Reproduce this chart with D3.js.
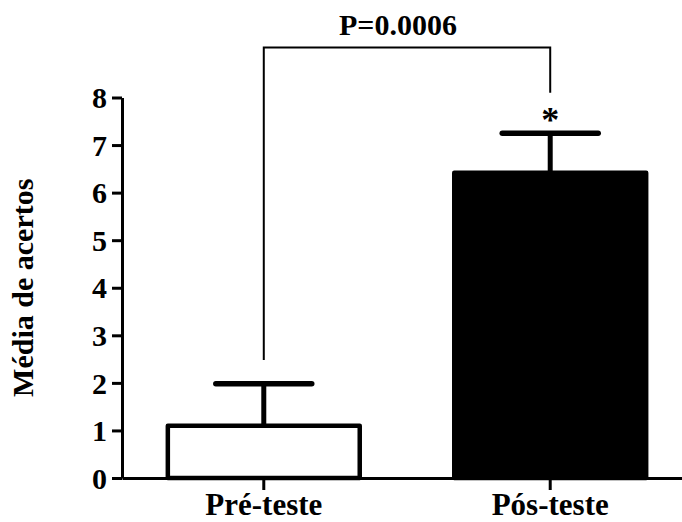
<!DOCTYPE html>
<html>
<head>
<meta charset="utf-8">
<script src="https://cdn.jsdelivr.net/npm/d3@7"></script>
<style>
  body { margin: 0; background: #fff; }
  svg text { font-family: "Liberation Serif", "DejaVu Serif", serif !important; font-weight: bold; }
</style>
</head>
<body>
<div id="chart"></div>
<script>
// data
var categories = ["Pré-teste", "Pós-teste"];
var means = [1.1, 6.42];
var errTop = [1.98, 7.25];
var fills = ["#fff", "#000"];
var yTicks = [0, 1, 2, 3, 4, 5, 6, 7, 8];
var pLabel = "P=0.0006";
var bracketTop = 9.05;
var bracketEnds = [2.48, 8.1];
var starLabel = "*";

var w = 682, h = 522;
var serif = "'Liberation Serif', 'DejaVu Serif', serif";

var svg = d3.select("#chart").append("svg")
    .attr("width", w)
    .attr("height", h);

var xScale = d3.scaleBand()
    .domain(categories)
    .range([122, 692])
    .paddingInner(0.33)
    .paddingOuter(0.16);

var yScale = d3.scaleLinear()
    .domain([0, 8])
    .range([478, 97.5]);

var cx = function(c) { return xScale(c) + xScale.bandwidth() / 2; };

// bars
svg.selectAll("rect.bar")
    .data(categories)
    .enter()
    .append("rect")
    .attr("class", "bar")
    .attr("x", function(d) { return xScale(d); })
    .attr("y", function(d, i) { return yScale(means[i]); })
    .attr("width", xScale.bandwidth())
    .attr("height", function(d, i) { return yScale(0) - yScale(means[i]); })
    .attr("fill", function(d, i) { return fills[i]; })
    .attr("stroke", "#000")
    .attr("stroke-width", 4.5)
    .attr("stroke-linejoin", "round");

// error bars (upper only)
var capW = xScale.bandwidth() / 2;
svg.selectAll("line.err")
    .data(categories)
    .enter()
    .append("line")
    .attr("class", "err")
    .attr("x1", cx).attr("x2", cx)
    .attr("y1", function(d, i) { return yScale(means[i]); })
    .attr("y2", function(d, i) { return yScale(errTop[i]); })
    .attr("stroke", "#000")
    .attr("stroke-width", 5);

svg.selectAll("line.cap")
    .data(categories)
    .enter()
    .append("line")
    .attr("class", "cap")
    .attr("x1", function(d) { return cx(d) - capW / 2; })
    .attr("x2", function(d) { return cx(d) + capW / 2; })
    .attr("y1", function(d, i) { return yScale(errTop[i]); })
    .attr("y2", function(d, i) { return yScale(errTop[i]); })
    .attr("stroke", "#000")
    .attr("stroke-width", 5.5)
    .attr("stroke-linecap", "round");

// axes
var yAxis = d3.axisLeft(yScale)
    .tickValues(yTicks)
    .tickSize(10)
    .tickSizeOuter(0)
    .tickPadding(5)
    .tickFormat(d3.format("d"));

var gy = svg.append("g")
    .attr("transform", "translate(122,0)")
    .call(yAxis)
    .attr("font-family", serif);
gy.select(".domain").attr("stroke", "#000").attr("stroke-width", 3);
gy.selectAll(".tick line").attr("stroke", "#000").attr("stroke-width", 3);
gy.selectAll(".tick text")
    .attr("font-size", 30)
    .attr("fill", "#000")
    .attr("dy", "0.34em");

var xAxis = d3.axisBottom(xScale)
    .tickSize(12)
    .tickSizeOuter(0)
    .tickPadding(4);

var gx = svg.append("g")
    .attr("transform", "translate(0," + yScale(0) + ")")
    .call(xAxis)
    .attr("font-family", serif);
gx.select(".domain").attr("stroke", "#000").attr("stroke-width", 3);
gx.selectAll(".tick line").attr("stroke", "#000").attr("stroke-width", 3);
gx.selectAll(".tick text")
    .attr("font-size", 31)
    .attr("fill", "#000")
    .attr("dy", "0.69em");

// y label
svg.append("text")
    .attr("transform", "translate(33," + ((yScale(0) + yScale(8)) / 2) + ") rotate(-90)")
    .attr("text-anchor", "middle")
    .attr("font-family", serif)
    .attr("font-size", 30)
    .attr("fill", "#000")
    .text("Média de acertos");

// significance bracket
var bx0 = cx(categories[0]), bx1 = cx(categories[1]);
svg.append("path")
    .attr("d", d3.line()([
        [bx0, yScale(bracketEnds[0])],
        [bx0, yScale(bracketTop)],
        [bx1, yScale(bracketTop)],
        [bx1, yScale(bracketEnds[1])]
    ]))
    .attr("fill", "none")
    .attr("stroke", "#000")
    .attr("stroke-width", 2);

svg.append("text")
    .attr("x", 398)
    .attr("y", 35)
    .attr("text-anchor", "middle")
    .attr("font-family", serif)
    .attr("font-size", 30)
    .attr("fill", "#000")
    .text(pLabel);

svg.append("text")
    .attr("x", bx1)
    .attr("y", yScale(errTop[1]) - 1)
    .attr("text-anchor", "middle")
    .attr("font-family", serif)
    .attr("font-size", 36)
    .attr("fill", "#000")
    .text(starLabel);
</script>
</body>
</html>
